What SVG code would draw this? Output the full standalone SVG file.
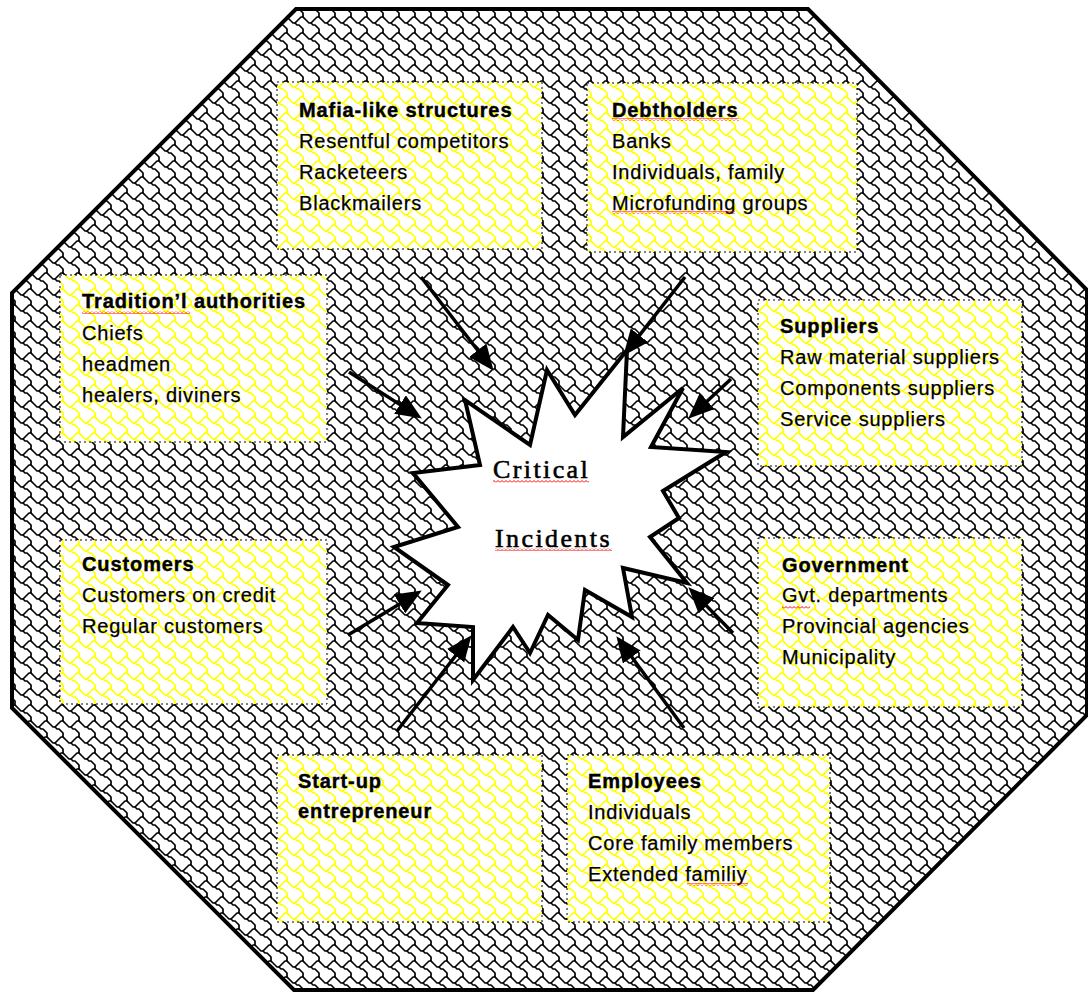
<svg xmlns="http://www.w3.org/2000/svg" width="1088" height="994" viewBox="0 0 1088 994">
  <defs>
    <!-- shingle hatch: a zigzag row with a tail dropping to the next row -->
    <g id="shingleCell" fill="none" stroke-width="1.7" stroke-linejoin="round" stroke-linecap="round">
      <path d="M-1 1 L1 3 L3 5 L5 7 L7 7 L9 5 L11 3 L13 1 L15 1 L17 3"/>
      <path d="M7 7 L9 9 L11 9 L13 11 L15 13 L15 17"/>
      <path d="M15 -3 L15 1"/>
    </g>
    <pattern id="shingleDark" width="16" height="16" patternUnits="userSpaceOnUse">
      <rect width="16" height="16" fill="#ffffff"/>
      <use href="#shingleCell" stroke="#000000"/>
    </pattern>
    <pattern id="shingleYellow" width="16" height="16" patternUnits="userSpaceOnUse">
      <rect width="16" height="16" fill="#ffffff"/>
      <use href="#shingleCell" stroke="#ffff00" stroke-width="2"/>
    </pattern>
    <!-- red wavy spelling underline -->
    <pattern id="squiggle" width="4" height="3" patternUnits="userSpaceOnUse">
      <path d="M0 2.5 L2 0.5 L4 2.5" fill="none" stroke="#ff0000" stroke-width="1"/>
    </pattern>
    <marker id="head" markerUnits="userSpaceOnUse" markerWidth="28" markerHeight="24" refX="1" refY="11" orient="auto">
      <path d="M0 0 L26 11 L0 22 Z" fill="#000"/>
    </marker>
  </defs>
  <style>
    .box { fill: url(#shingleYellow); stroke: #000; stroke-width: 1; stroke-dasharray: 2 3; }
    .t { font-family: "Liberation Sans", Arial, sans-serif; font-size: 20px; letter-spacing: 0.8px; fill: #000; stroke: #000; stroke-width: 0.25; }
    .h { font-family: "Liberation Sans", Arial, sans-serif; font-size: 20px; font-weight: bold; letter-spacing: 0.9px; fill: #000; stroke: #000; stroke-width: 0.4; }
    .c { font-family: "Liberation Serif", "Times New Roman", serif; font-size: 26px; letter-spacing: 2.4px; fill: #000; stroke: #000; stroke-width: 0.6; }
    .sq { fill: url(#squiggle); }
    .arrow { stroke: #000; stroke-width: 3.5; fill: none; marker-end: url(#head); }
  </style>

  <rect width="1088" height="994" fill="#ffffff"/>

  <!-- octagonal frame -->
  <g id="frame">
    <polygon points="296,9 808,9 1087,290 1087,715 813,990 294,990 12,708 12,293" fill="url(#shingleDark)" stroke="#000" stroke-width="4" stroke-linejoin="miter"/>
  </g>

  <g id="mafia">
    <rect class="box" x="277" y="82" width="265" height="167"/>
    <text class="h" x="299" y="117">Mafia-like structures</text>
    <text class="t" x="299" y="148">Resentful competitors</text>
    <text class="t" x="299" y="179">Racketeers</text>
    <text class="t" x="299" y="210">Blackmailers</text>
  </g>

  <g id="debtholders">
    <rect class="box" x="587" y="83" width="270" height="169"/>
    <text class="h" x="612" y="117">Debtholders</text>
    <text class="t" x="612" y="148">Banks</text>
    <text class="t" x="612" y="179">Individuals, family</text>
    <text class="t" x="612" y="210">Microfunding groups</text>
    <rect class="sq" x="612" y="118" width="127" height="3"/>
    <rect class="sq" x="612" y="211" width="123" height="3"/>
  </g>

  <g id="traditional">
    <rect class="box" x="60" y="275" width="267" height="167"/>
    <text class="h" x="82" y="308">Tradition’l authorities</text>
    <text class="t" x="82" y="340">Chiefs</text>
    <text class="t" x="82" y="371">headmen</text>
    <text class="t" x="82" y="402">healers, diviners</text>
    <rect class="sq" x="82" y="311" width="108" height="3"/>
  </g>

  <g id="suppliers">
    <rect class="box" x="758" y="300" width="264" height="166"/>
    <text class="h" x="780" y="333">Suppliers</text>
    <text class="t" x="780" y="364">Raw material suppliers</text>
    <text class="t" x="780" y="395">Components suppliers</text>
    <text class="t" x="780" y="426">Service suppliers</text>
  </g>

  <g id="customers">
    <rect class="box" x="60" y="540" width="267" height="164"/>
    <text class="h" x="82" y="571">Customers</text>
    <text class="t" x="82" y="602">Customers on credit</text>
    <text class="t" x="82" y="633">Regular customers</text>
  </g>

  <g id="government">
    <rect class="box" x="758" y="538" width="264" height="169"/>
    <text class="h" x="782" y="572">Government</text>
    <text class="t" x="782" y="602">Gvt. departments</text>
    <text class="t" x="782" y="633">Provincial agencies</text>
    <text class="t" x="782" y="664">Municipality</text>
    <rect class="sq" x="782" y="606" width="28" height="3"/>
  </g>

  <g id="startup">
    <rect class="box" x="277" y="755" width="265" height="167"/>
    <text class="h" x="298" y="788">Start-up</text>
    <text class="h" x="298" y="818">entrepreneur</text>
  </g>

  <g id="employees">
    <rect class="box" x="567" y="755" width="263" height="167"/>
    <text class="h" x="588" y="788">Employees</text>
    <text class="t" x="588" y="819">Individuals</text>
    <text class="t" x="588" y="850">Core family members</text>
    <text class="t" x="588" y="881">Extended familiy</text>
    <rect class="sq" x="687" y="883" width="61" height="3"/>
  </g>

  <!-- central burst -->
  <g id="critical-incidents">
    <polygon points="547,370 575,415 627,350 623,437 683,388 651,447 726,452 663,491 679,518 650,537 687,583 623,568 632,617 585,590 578,640 548,615 530,653 513,627 473,680 473,627 417,623 448,585 394,547 458,527 413,473 480,465 465,400 530,445" fill="#ffffff" stroke="#000" stroke-width="4" stroke-linejoin="miter"/>
    <text class="c" x="493" y="478">Critical</text>
    <text class="c" x="495" y="547">Incidents</text>
    <rect class="sq" x="493" y="480" width="96" height="3"/>
    <rect class="sq" x="495" y="548" width="117" height="3"/>
  </g>

  <!-- pressure arrows pointing at the burst -->
  <g id="connectors">
    <line class="arrow" x1="421" y1="277" x2="478.3" y2="351.0"/>
    <line class="arrow" x1="685" y1="277" x2="638.8" y2="336.1"/>
    <line class="arrow" x1="349" y1="372" x2="400.8" y2="405.1"/>
    <line class="arrow" x1="731" y1="379" x2="706.5" y2="401.7"/>
    <line class="arrow" x1="348" y1="635" x2="400.4" y2="603.4"/>
    <line class="arrow" x1="397" y1="731" x2="456.2" y2="655.0"/>
    <line class="arrow" x1="684" y1="728" x2="631.2" y2="656.3"/>
    <line class="arrow" x1="733" y1="633" x2="705.8" y2="605.1"/>
  </g>
</svg>
